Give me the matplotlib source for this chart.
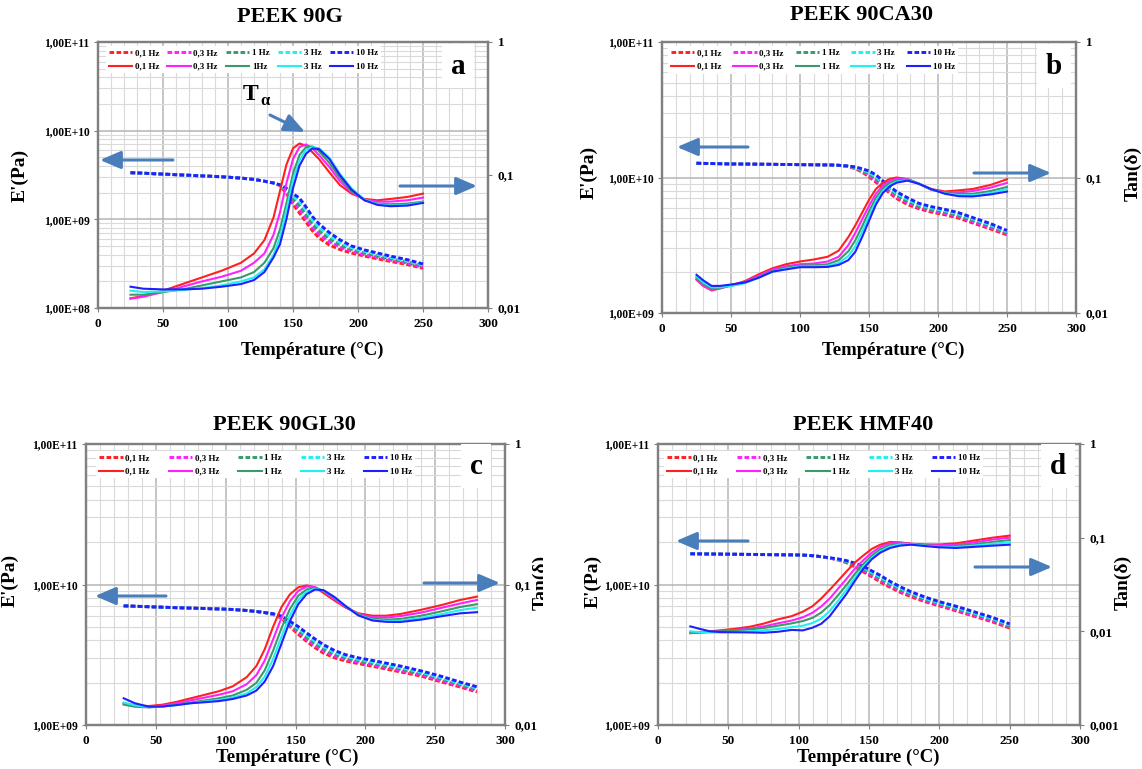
import numpy as np
import matplotlib.pyplot as plt
from matplotlib.ticker import MultipleLocator, FuncFormatter, NullFormatter, LogLocator
from matplotlib.patches import FancyArrowPatch, Rectangle

plt.rcParams['font.family'] = ['Liberation Serif', 'DejaVu Serif']
plt.rcParams['font.weight'] = 'bold'

# frequencies (same order in every list below: 0,1 / 0,3 / 1 / 3 / 10 Hz)
freq_labels = ['0,1 Hz', '0,3 Hz', '1 Hz', '3 Hz', '10 Hz']
colors = ['#ff2020', '#ff20ff', '#3a9a6a', '#20f0f0', '#2020ff']

# ---------------- PEEK 90G (a) ----------------
T_a = [25, 35, 50, 65, 80, 95, 110, 120, 128, 135, 140, 145, 150, 155, 160,
       165, 170, 178, 186, 195, 205, 215, 225, 238, 250]
# log10 E' (Pa)
logE_a = [
    [9.526, 9.52, 9.51, 9.50, 9.49, 9.48, 9.465, 9.45, 9.43, 9.41, 9.38, 9.29, 9.17, 9.07, 8.97,
     8.87, 8.79, 8.71, 8.66, 8.62, 8.585, 8.555, 8.525, 8.49, 8.448],
    [9.526, 9.52, 9.51, 9.50, 9.49, 9.48, 9.465, 9.45, 9.43, 9.41, 9.383, 9.305, 9.20, 9.11, 9.01,
     8.91, 8.83, 8.745, 8.69, 8.64, 8.60, 8.57, 8.54, 8.505, 8.46],
    [9.526, 9.52, 9.51, 9.50, 9.49, 9.48, 9.465, 9.45, 9.43, 9.41, 9.385, 9.32, 9.23, 9.155, 9.055,
     8.95, 8.87, 8.78, 8.715, 8.66, 8.62, 8.59, 8.555, 8.52, 8.472],
    [9.526, 9.52, 9.51, 9.50, 9.49, 9.48, 9.465, 9.45, 9.43, 9.41, 9.388, 9.335, 9.26, 9.20, 9.10,
     8.99, 8.91, 8.815, 8.74, 8.68, 8.64, 8.605, 8.57, 8.53, 8.485],
    [9.526, 9.52, 9.51, 9.50, 9.49, 9.48, 9.465, 9.45, 9.43, 9.41, 9.39, 9.35, 9.29, 9.24, 9.14,
     9.03, 8.95, 8.85, 8.77, 8.70, 8.655, 8.62, 8.585, 8.545, 8.497],
]
# log10 tan(delta)
logtan_a = [
    [-1.927, -1.91, -1.87, -1.82, -1.77, -1.72, -1.66, -1.59, -1.49, -1.32, -1.12, -0.92, -0.80, -0.763, -0.78,
     -0.83, -0.88, -0.98, -1.075, -1.14, -1.18, -1.19, -1.18, -1.165, -1.14],
    [-1.93, -1.915, -1.88, -1.84, -1.80, -1.765, -1.72, -1.66, -1.59, -1.45, -1.28, -1.06, -0.88, -0.79, -0.77,
     -0.80, -0.85, -0.94, -1.045, -1.13, -1.185, -1.20, -1.20, -1.19, -1.17],
    [-1.90, -1.90, -1.88, -1.86, -1.83, -1.80, -1.77, -1.73, -1.66, -1.55, -1.41, -1.21, -0.99, -0.85, -0.79,
     -0.785, -0.82, -0.91, -1.02, -1.12, -1.19, -1.215, -1.22, -1.215, -1.20],
    [-1.87, -1.88, -1.875, -1.865, -1.85, -1.83, -1.80, -1.77, -1.71, -1.60, -1.47, -1.26, -1.04, -0.89, -0.81,
     -0.79, -0.80, -0.87, -0.99, -1.10, -1.185, -1.22, -1.23, -1.225, -1.205],
    [-1.84, -1.855, -1.86, -1.86, -1.855, -1.84, -1.82, -1.79, -1.73, -1.62, -1.52, -1.33, -1.10, -0.93, -0.84,
     -0.80, -0.805, -0.88, -1.00, -1.11, -1.19, -1.225, -1.235, -1.23, -1.21],
]

# ---------------- PEEK 90CA30 (b) ----------------
T_b = [25, 30, 36, 42, 50, 60, 70, 80, 90, 100, 110, 120, 128, 135, 140, 145, 150, 155, 160,
       165, 170, 178, 186, 195, 205, 215, 225, 238, 250]
logE_b = [
    [10.105, 10.104, 10.103, 10.102, 10.10, 10.099, 10.098, 10.097, 10.096, 10.095, 10.094, 10.093, 10.09,
     10.08, 10.065, 10.04, 10.005, 9.965, 9.925, 9.885, 9.845, 9.80, 9.77, 9.745, 9.725, 9.70, 9.665, 9.62, 9.577],
    [10.105, 10.104, 10.103, 10.102, 10.10, 10.099, 10.098, 10.097, 10.096, 10.095, 10.094, 10.093, 10.09,
     10.082, 10.068, 10.046, 10.015, 9.978, 9.938, 9.898, 9.858, 9.812, 9.78, 9.755, 9.735, 9.71, 9.675, 9.63, 9.585],
    [10.105, 10.104, 10.103, 10.102, 10.10, 10.099, 10.098, 10.097, 10.096, 10.095, 10.094, 10.093, 10.09,
     10.083, 10.071, 10.052, 10.026, 9.992, 9.95, 9.91, 9.87, 9.825, 9.79, 9.765, 9.745, 9.72, 9.685, 9.64, 9.593],
    [10.105, 10.104, 10.103, 10.102, 10.10, 10.099, 10.098, 10.097, 10.096, 10.095, 10.094, 10.093, 10.09,
     10.084, 10.075, 10.058, 10.037, 10.005, 9.962, 9.922, 9.882, 9.837, 9.80, 9.775, 9.755, 9.73, 9.695, 9.65, 9.60],
    [10.105, 10.104, 10.103, 10.102, 10.10, 10.099, 10.098, 10.097, 10.096, 10.095, 10.094, 10.093, 10.09,
     10.085, 10.078, 10.065, 10.048, 10.02, 9.975, 9.935, 9.895, 9.85, 9.81, 9.785, 9.765, 9.74, 9.705, 9.66, 9.609],
]
logtan_b = [
    [-1.755, -1.80, -1.834, -1.817, -1.795, -1.765, -1.715, -1.67, -1.64, -1.62, -1.605, -1.585, -1.54,
     -1.44, -1.355, -1.26, -1.165, -1.085, -1.04, -1.01, -1.0, -1.012, -1.045, -1.085, -1.103, -1.095, -1.085, -1.055, -1.013],
    [-1.75, -1.80, -1.83, -1.82, -1.795, -1.77, -1.725, -1.68, -1.655, -1.64, -1.635, -1.62, -1.585,
     -1.50, -1.41, -1.31, -1.21, -1.12, -1.06, -1.025, -1.008, -1.012, -1.045, -1.09, -1.11, -1.11, -1.10, -1.075, -1.04],
    [-1.74, -1.785, -1.82, -1.815, -1.80, -1.775, -1.735, -1.69, -1.665, -1.65, -1.648, -1.64, -1.61,
     -1.545, -1.465, -1.36, -1.25, -1.15, -1.08, -1.04, -1.02, -1.015, -1.045, -1.09, -1.115, -1.12, -1.12, -1.10, -1.07],
    [-1.73, -1.775, -1.81, -1.81, -1.80, -1.78, -1.74, -1.695, -1.672, -1.658, -1.656, -1.652, -1.63,
     -1.58, -1.51, -1.40, -1.285, -1.175, -1.10, -1.055, -1.03, -1.02, -1.045, -1.085, -1.118, -1.13, -1.13, -1.115, -1.085],
    [-1.718, -1.76, -1.80, -1.80, -1.79, -1.775, -1.74, -1.695, -1.678, -1.662, -1.662, -1.66, -1.645,
     -1.61, -1.55, -1.44, -1.32, -1.20, -1.115, -1.065, -1.038, -1.023, -1.046, -1.085, -1.12, -1.138, -1.14, -1.125, -1.104],
]

# ---------------- PEEK 90GL30 (c) ----------------
T_c = [27, 35, 45, 55, 65, 75, 85, 95, 105, 115, 122, 128, 134, 140, 146, 152, 158, 164, 170,
       178, 186, 195, 205, 215, 225, 240, 255, 268, 280]
logE_c = [
    [9.848, 9.845, 9.842, 9.838, 9.835, 9.832, 9.829, 9.826, 9.822, 9.815, 9.808, 9.80,
     9.786, 9.76, 9.70, 9.645, 9.595, 9.55, 9.512, 9.478, 9.455, 9.437, 9.418, 9.398, 9.378, 9.348, 9.305, 9.27, 9.235],
    [9.848, 9.845, 9.842, 9.838, 9.835, 9.832, 9.829, 9.826, 9.822, 9.815, 9.808, 9.80,
     9.788, 9.764, 9.71, 9.659, 9.61, 9.566, 9.527, 9.491, 9.466, 9.447, 9.428, 9.408, 9.388, 9.357, 9.315, 9.28, 9.244],
    [9.848, 9.845, 9.842, 9.838, 9.835, 9.832, 9.829, 9.826, 9.822, 9.815, 9.808, 9.80,
     9.789, 9.768, 9.72, 9.673, 9.625, 9.581, 9.542, 9.504, 9.477, 9.457, 9.439, 9.419, 9.399, 9.366, 9.325, 9.288, 9.253],
    [9.848, 9.845, 9.842, 9.838, 9.835, 9.832, 9.829, 9.826, 9.822, 9.815, 9.808, 9.80,
     9.79, 9.771, 9.729, 9.686, 9.64, 9.596, 9.557, 9.517, 9.488, 9.467, 9.449, 9.429, 9.409, 9.375, 9.335, 9.296, 9.262],
    [9.848, 9.845, 9.842, 9.838, 9.835, 9.832, 9.829, 9.826, 9.822, 9.815, 9.808, 9.80,
     9.792, 9.775, 9.738, 9.70, 9.655, 9.612, 9.572, 9.53, 9.50, 9.478, 9.46, 9.44, 9.42, 9.385, 9.345, 9.305, 9.272],
]
logtan_c = [
    [-1.845, -1.86, -1.865, -1.855, -1.835, -1.81, -1.785, -1.76, -1.725, -1.66, -1.58, -1.46, -1.30, -1.16,
     -1.07, -1.02, -1.007, -1.02, -1.06, -1.115, -1.165, -1.205, -1.222, -1.222, -1.21, -1.18, -1.145, -1.11, -1.086],
    [-1.85, -1.862, -1.87, -1.862, -1.845, -1.825, -1.805, -1.785, -1.76, -1.71, -1.645, -1.54, -1.39, -1.235,
     -1.12, -1.045, -1.015, -1.018, -1.05, -1.105, -1.16, -1.21, -1.232, -1.235, -1.225, -1.20, -1.165, -1.135, -1.11],
    [-1.855, -1.87, -1.875, -1.868, -1.855, -1.84, -1.825, -1.81, -1.79, -1.75, -1.70, -1.61, -1.47, -1.31,
     -1.175, -1.08, -1.035, -1.025, -1.045, -1.095, -1.155, -1.215, -1.243, -1.25, -1.245, -1.222, -1.19, -1.16, -1.14],
    [-1.84, -1.86, -1.872, -1.868, -1.858, -1.845, -1.833, -1.822, -1.805, -1.775, -1.73, -1.655, -1.53, -1.37,
     -1.22, -1.11, -1.05, -1.03, -1.042, -1.092, -1.155, -1.218, -1.25, -1.26, -1.258, -1.238, -1.21, -1.182, -1.165],
    [-1.81, -1.845, -1.87, -1.868, -1.858, -1.845, -1.838, -1.83, -1.815, -1.79, -1.755, -1.69, -1.58, -1.42,
     -1.26, -1.14, -1.068, -1.036, -1.04, -1.09, -1.155, -1.22, -1.256, -1.266, -1.267, -1.25, -1.225, -1.205, -1.197],
]

# ---------------- PEEK HMF40 (d) ----------------
T_d = [23, 30, 37, 45, 55, 65, 75, 85, 95, 103, 110, 116, 122, 128, 134, 140, 146, 152, 158,
       165, 172, 180, 190, 200, 212, 225, 238, 250]
logE_d = [
    [10.219, 10.218, 10.217, 10.216, 10.215, 10.214, 10.213, 10.212, 10.211, 10.209, 10.205, 10.198, 10.188,
     10.175, 10.155, 10.125, 10.09, 10.055, 10.018, 9.98, 9.945, 9.912, 9.877, 9.848, 9.812, 9.773, 9.733, 9.69],
    [10.219, 10.218, 10.217, 10.216, 10.215, 10.214, 10.213, 10.212, 10.211, 10.209, 10.205, 10.198, 10.188,
     10.177, 10.159, 10.132, 10.10, 10.065, 10.03, 9.99, 9.955, 9.921, 9.885, 9.856, 9.82, 9.781, 9.741, 9.698],
    [10.219, 10.218, 10.217, 10.216, 10.215, 10.214, 10.213, 10.212, 10.211, 10.209, 10.205, 10.198, 10.188,
     10.178, 10.162, 10.138, 10.11, 10.076, 10.041, 10.001, 9.965, 9.93, 9.893, 9.863, 9.828, 9.789, 9.749, 9.705],
    [10.219, 10.218, 10.217, 10.216, 10.215, 10.214, 10.213, 10.212, 10.211, 10.209, 10.205, 10.198, 10.188,
     10.18, 10.166, 10.145, 10.12, 10.086, 10.053, 10.011, 9.975, 9.939, 9.901, 9.87, 9.836, 9.797, 9.757, 9.713],
    [10.219, 10.218, 10.217, 10.216, 10.215, 10.214, 10.213, 10.212, 10.211, 10.209, 10.205, 10.198, 10.19,
     10.182, 10.17, 10.152, 10.13, 10.097, 10.065, 10.022, 9.985, 9.948, 9.91, 9.878, 9.845, 9.805, 9.765, 9.72],
]
logtan_d = [
    [-2.018, -2.01, -2.0, -1.988, -1.972, -1.952, -1.918, -1.873, -1.838, -1.79, -1.73, -1.65, -1.557, -1.46,
     -1.36, -1.265, -1.19, -1.12, -1.075, -1.046, -1.05, -1.065, -1.072, -1.073, -1.06, -1.03, -1.0, -0.978],
    [-2.02, -2.012, -2.005, -1.995, -1.985, -1.97, -1.948, -1.915, -1.885, -1.85, -1.80, -1.735, -1.65, -1.545,
     -1.44, -1.33, -1.24, -1.16, -1.10, -1.06, -1.055, -1.066, -1.078, -1.082, -1.075, -1.05, -1.02, -1.0],
    [-2.01, -2.012, -2.008, -2.0, -1.992, -1.98, -1.965, -1.94, -1.915, -1.89, -1.855, -1.80, -1.72, -1.615,
     -1.505, -1.385, -1.28, -1.19, -1.125, -1.08, -1.062, -1.068, -1.082, -1.09, -1.088, -1.07, -1.045, -1.025],
    [-2.0, -2.01, -2.012, -2.012, -2.008, -2.0, -1.99, -1.975, -1.955, -1.94, -1.91, -1.865, -1.785, -1.675,
     -1.555, -1.425, -1.31, -1.215, -1.145, -1.095, -1.072, -1.07, -1.086, -1.097, -1.10, -1.085, -1.065, -1.05],
    [-1.947, -1.975, -2.0, -2.008, -2.01, -2.012, -2.015, -2.005, -1.985, -1.99, -1.96, -1.92, -1.84, -1.72,
     -1.60, -1.46, -1.33, -1.23, -1.16, -1.11, -1.085, -1.075, -1.09, -1.103, -1.11, -1.098, -1.085, -1.075],
]

W, H = 1142, 769
fig = plt.figure(figsize=(W / 100, H / 100), dpi=100)
arrow_col = '#4a7ebb'


def px(x, y):
    # image pixel (top-left origin) -> figure fraction
    return x / W, 1 - y / H


def rect(l, t, r, b):
    return [l / W, 1 - b / H, (r - l) / W, (b - t) / H]


def left_fmt(v, p):
    return ('1,00E+%02d' % int(round(np.log10(v))))


def right_fmt(v, p):
    return ('%g' % v).replace('.', ',')


def panel(box, T, logE, logtan, ylimE, ylimT, solid_labels, leg_anchor, colsp):
    ax = fig.add_axes(rect(*box))
    ax.set_xlim(0, 300)
    ax.set_yscale('log')
    ax.set_ylim(*ylimE)
    ax.xaxis.set_major_locator(MultipleLocator(50))
    ax.xaxis.set_minor_locator(MultipleLocator(10))
    ax.yaxis.set_minor_locator(LogLocator(base=10, subs=np.arange(2, 10)))
    ax.yaxis.set_major_formatter(FuncFormatter(left_fmt))
    ax.yaxis.set_minor_formatter(NullFormatter())
    ax.grid(which='minor', color='#dadada', lw=0.8)
    ax.grid(which='major', color='#b5b5b5', lw=1.1)
    ax.set_axisbelow(True)
    ax.tick_params(axis='y', which='major', labelsize=8.3, length=3, pad=3, color='#808080')
    ax.tick_params(axis='x', which='major', labelsize=9.5, length=3, pad=4, color='#808080')
    ax.tick_params(which='minor', length=0)

    ax2 = ax.twinx()
    ax2.set_yscale('log')
    ax2.set_ylim(*ylimT)
    ax2.yaxis.set_major_formatter(FuncFormatter(right_fmt))
    ax2.yaxis.set_minor_formatter(NullFormatter())
    ax2.tick_params(axis='y', which='major', labelsize=9.5, length=3, pad=4, color='#808080')
    ax2.tick_params(which='minor', length=0)
    for a in (ax, ax2):
        for s in a.spines.values():
            s.set_color('#808080')
            s.set_linewidth(1.6)

    dashed, solid = [], []
    for vals, c in zip(logE, colors):
        l, = ax.plot(T, 10 ** np.array(vals), color=c, lw=2.1, ls=(0, (1.6, 0.8)))
        dashed.append(l)
    for vals, c in zip(logtan, colors):
        l, = ax2.plot(T, 10 ** np.array(vals), color=c, lw=1.5)
        solid.append(l)

    handles, labels = [], []
    for i in range(5):
        handles += [dashed[i], solid[i]]
        labels += [freq_labels[i], solid_labels[i]]
    ax2.legend(handles, labels, ncol=5, loc='upper left', bbox_to_anchor=leg_anchor,
               prop=dict(family='Liberation Serif', weight='bold', size=6.5),
               frameon=True, fancybox=False, edgecolor='none', facecolor='white', framealpha=1,
               handlelength=2.6, handletextpad=0.3, columnspacing=colsp,
               borderpad=0.3, labelspacing=0.6, borderaxespad=0)
    return ax, ax2


labels_1Hz = ['0,1 Hz', '0,3 Hz', '1Hz', '3 Hz', '10 Hz']

panel((98, 42, 488, 308), T_a, logE_a, logtan_a, (1e8, 1e11), (0.01, 1),
      labels_1Hz, (0.02, 0.985), 0.9)
panel((662, 42, 1076, 313), T_b, logE_b, logtan_b, (1e9, 1e11), (0.01, 1),
      freq_labels, (0.015, 0.985), 1.3)
panel((86, 444, 505, 725), T_c, logE_c, logtan_c, (1e9, 1e11), (0.01, 1),
      freq_labels, (0.025, 0.975), 2.1)
panel((658, 444, 1080, 725), T_d, logE_d, logtan_d, (1e9, 1e11), (0.001, 1),
      freq_labels, (0.015, 0.975), 2.1)

# titles, axis labels, panel letters
titles = [('PEEK 90G', 290, 17), ('PEEK 90CA30', 861, 15), ('PEEK 90GL30', 284, 425), ('PEEK HMF40', 863, 425)]
for s, x, y in titles:
    fig.text(*px(x, y), s, ha='center', va='center', fontsize=16, fontweight='bold')

for x, y in [(312, 350), (893, 350), (287, 757), (868, 757)]:
    fig.text(*px(x, y), 'Température (°C)', ha='center', va='center', fontsize=13.5, fontweight='bold')

for x, y in [(20, 175), (589, 172), (10, 580), (593, 581)]:
    fig.text(*px(x, y), "E'(Pa)", ha='center', va='center', rotation=90, fontsize=14, fontweight='bold')

for x, y in [(1133, 173), (541, 582), (1123, 582)]:
    fig.text(*px(x, y), 'Tan(δ)', ha='center', va='center', rotation=90, fontsize=14, fontweight='bold')
# panel c label is cut by the next panel
fig.add_artist(Rectangle(px(543, 630), 35 / W, 95 / H, transform=fig.transFigure,
                         facecolor='white', edgecolor='none', zorder=10))

for s, x, y in [('a', 458, 66), ('b', 1054, 66), ('c', 476, 466), ('d', 1058, 466)]:
    fig.text(*px(x, y), s, ha='center', va='center', fontsize=21, fontweight='bold',
             bbox=dict(facecolor='white', edgecolor='none', pad=6))

# T alpha marker
fig.text(*px(251, 94), 'T', ha='center', va='center', fontsize=17, fontweight='bold')
fig.text(*px(265, 101), 'α', ha='center', va='center', fontsize=12, fontweight='bold')

# arrows (start, end) in image pixels
arrows = [((173, 160), (100, 160)), ((400, 186), (477, 186)), ((270, 115), (305, 132)),
          ((748, 147), (677, 147)), ((974, 173), (1051, 173)),
          ((166, 596), (95, 596)), ((424, 583), (500, 583)),
          ((748, 541), (676, 541)), ((975, 567), (1052, 567))]
for p0, p1 in arrows:
    fig.add_artist(FancyArrowPatch(px(*p0), px(*p1), transform=fig.transFigure,
                                   arrowstyle='-|>,head_length=0.7,head_width=0.3',
                                   mutation_scale=18, lw=2.2, color=arrow_col,
                                   shrinkA=0, shrinkB=0, zorder=6))

fig.savefig('out.png', dpi=100)
